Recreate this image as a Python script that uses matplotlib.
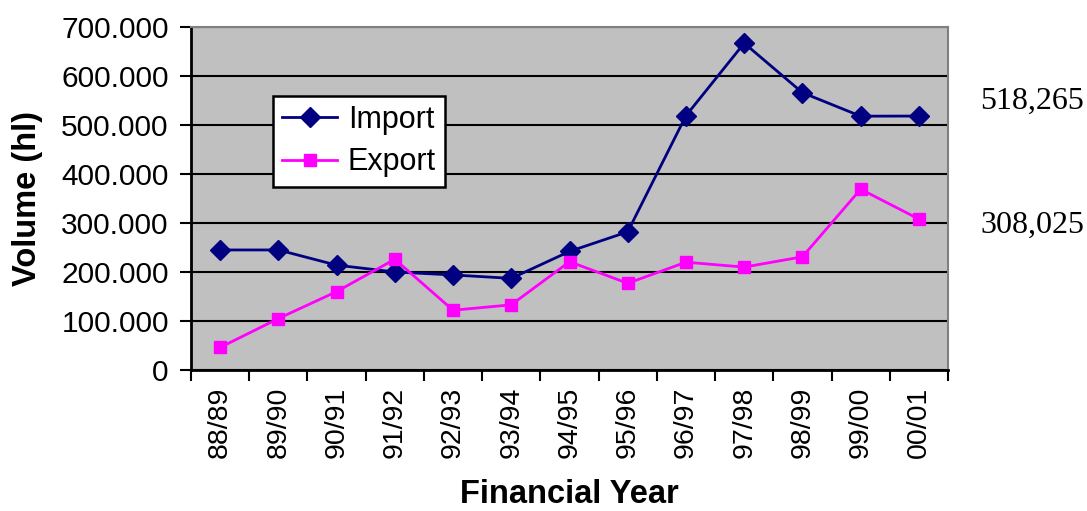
import matplotlib
matplotlib.use("Agg")
import matplotlib.pyplot as plt
import numpy as np
from matplotlib.ticker import FuncFormatter, FixedLocator

years = ["88/89", "89/90", "90/91", "91/92", "92/93", "93/94", "94/95",
         "95/96", "96/97", "97/98", "98/99", "99/00", "00/01"]
imports = [245000, 245000, 214000, 200000, 194000, 187000, 242000,
           282000, 519000, 667000, 566000, 518000, 518265]
exports = [46000, 105000, 160000, 226000, 122000, 133000, 221000,
           177000, 220000, 210000, 231000, 369000, 308025]
yticks = [0, 100000, 200000, 300000, 400000, 500000, 600000, 700000]

plt.rcParams['font.family'] = ['Liberation Sans', 'DejaVu Sans']

fig = plt.figure(figsize=(10.87, 5.11), dpi=100)
ax = fig.add_axes([191/1087, 1-370/511, (948-191)/1087, (370-27)/511])
ax.set_facecolor('#C0C0C0')

x = np.arange(len(years))
ax.plot(x, imports, color='#000080', lw=2, marker='D', markersize=10,
        markerfacecolor='#000080', markeredgecolor='#000080', label='Import', zorder=4)
ax.plot(x, exports, color='#FF00FF', lw=2, marker='s', markersize=9,
        markerfacecolor='#FF00FF', markeredgecolor='#FF00FF', label='Export', zorder=4)

ax.set_xlim(-0.5, len(years) - 0.5)
ax.set_ylim(0, 700000)
ax.set_yticks(yticks)
ax.yaxis.set_major_formatter(FuncFormatter(lambda v, p: "0" if v == 0 else f"{int(v):,}".replace(",", ".")))
ax.grid(axis='y', color='black', lw=1.5, zorder=1)
ax.set_axisbelow(True)

ax.xaxis.set_major_locator(FixedLocator(np.arange(-0.5, len(years), 1.0)))
ax.xaxis.set_minor_locator(FixedLocator(x))
ax.set_xticklabels([], minor=False)
ax.set_xticklabels(years, minor=True, rotation=90, fontsize=20.5)
ax.tick_params(axis='x', which='major', length=8, width=1.5, direction='out')
ax.tick_params(axis='x', which='minor', length=0, pad=12)
ax.tick_params(axis='y', length=8, width=1.5, direction='out', labelsize=21.5, pad=8)

for s in ['left', 'bottom']:
    ax.spines[s].set_color('black')
    ax.spines[s].set_linewidth(2)
for s in ['top', 'right']:
    ax.spines[s].set_color('#808080')
    ax.spines[s].set_linewidth(1.5)

ax.set_ylabel("Volume (hl)", fontsize=23.5, fontweight='bold')
ax.yaxis.set_label_coords(-0.196, 0.5)
ax.set_xlabel("Financial Year", fontsize=23.5, fontweight='bold')
ax.xaxis.set_label_coords(0.5, -0.318)

leg = ax.legend(loc='upper left', bbox_to_anchor=((273-191)/757, (370-96)/343),
                fontsize=22, frameon=True, fancybox=False, edgecolor='black',
                framealpha=1, borderpad=0.3, handlelength=1.8, handletextpad=0.35,
                labelspacing=0.4, borderaxespad=0)
leg.get_frame().set_linewidth(1.8)

fig.text(980/1087, 1-101/511, f"{imports[-1]:,}", fontsize=23, va='center', ha='left',
         family=['Liberation Serif', 'DejaVu Serif'])
fig.text(980/1087, 1-225/511, f"{exports[-1]:,}", fontsize=23, va='center', ha='left',
         family=['Liberation Serif', 'DejaVu Serif'])

fig.savefig("out.png", dpi=100, facecolor='white')
